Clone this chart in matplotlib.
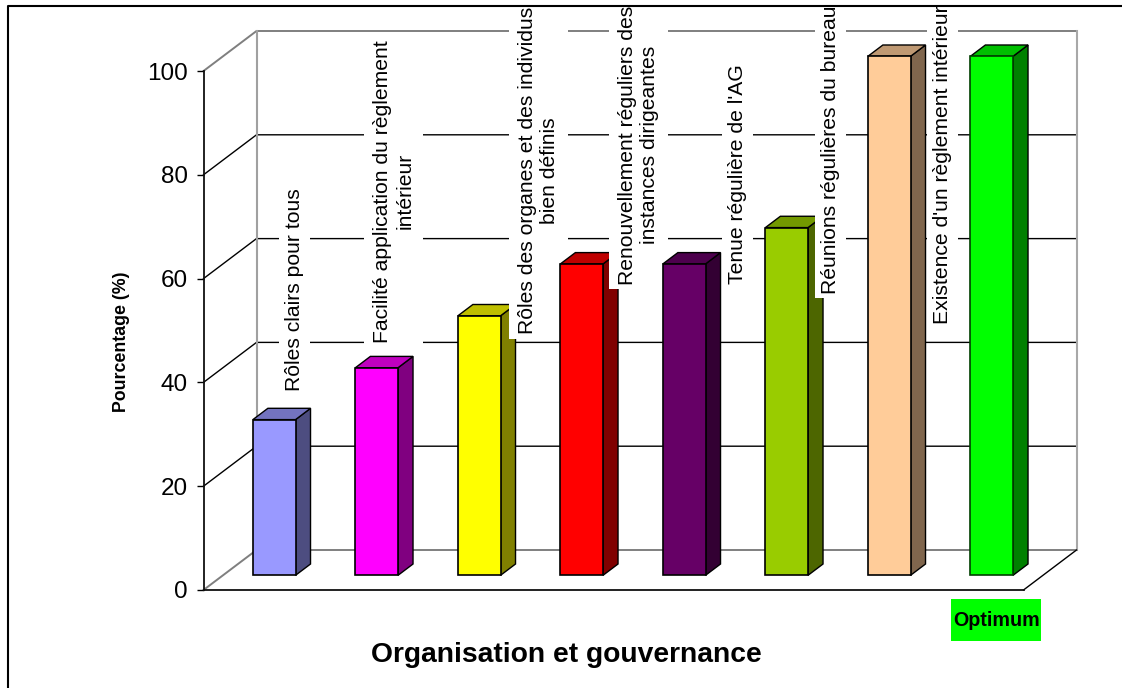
import matplotlib
matplotlib.use("Agg")
import matplotlib.pyplot as plt
from matplotlib.patches import Polygon, Rectangle
from matplotlib.path import Path
from matplotlib.colors import to_rgb

plt.rcParams['font.family'] = ['Liberation Sans', 'DejaVu Sans']

labels = ["Rôles clairs pour tous",
          "Facilité application du règlement\nintérieur",
          "Rôles des organes et des individus\nbien définis",
          "Renouvellement réguliers des\ninstances dirigeantes",
          "Tenue régulière de l'AG",
          "Réunions régulières du bureau",
          "Existence d'un règlement intérieur",
          "Optimum"]
values = [30, 40, 50, 60, 60, 67, 100, 100]
colors = ["#9999FF", "#FF00FF", "#FFFF00", "#FF0000", "#660066", "#99CC00", "#FFCC99", "#00FF00"]
yticks = [0, 20, 40, 60, 80, 100]
label_dx = [20, 17, 59, 56.5, 53, 43.5, 53]
label_dy = [29, 25, -18.5, -21, -20, -66, -268]

W, H = 1122, 688
fig = plt.figure(figsize=(W/100, H/100), dpi=100, facecolor="white")
ax = fig.add_axes([203.5/W, (H-590)/H, 820/W, 519/H])
ax.set_xlim(0, 8)
ax.set_ylim(0, 100)
ax.patch.set_visible(False)

DX = 53/102.5
DY = 40/5.19
d0, d1 = 0.367, 0.65
bw = 0.416


def shade(c, f):
    return tuple(v*f for v in to_rgb(c))


def label_box(x0, y0, width, height, mutation_size):
    # white box: a little room along the text, more across its lines
    pa = 4.5
    pc = 3 + height*0.15
    xa, xb = x0 - pa, x0 + width + pa
    ya, yb = y0 - pc, y0 + height + pc
    return Path([(xa, ya), (xb, ya), (xb, yb), (xa, yb), (xa, ya)], closed=True)


# walls and gridlines
for v in yticks:
    edge = v in (0, 100)
    col = "#7f7f7f" if edge else "black"
    lw = 1.4 if edge else 1.0
    ax.plot([0, DX, 8+DX], [v, v+DY, v+DY], color=col, lw=lw, clip_on=False, zorder=1,
            solid_joinstyle='miter')
ax.plot([DX, DX], [DY, 100+DY], color="#a0a0a0", lw=1.5, clip_on=False, zorder=1)
ax.plot([8+DX, 8+DX], [DY, 100+DY], color="#a8a8a8", lw=1.5, clip_on=False, zorder=1)
ax.plot([8, 8+DX], [0, DY], color="black", lw=1.0, clip_on=False, zorder=1)

# 3D bars
for i, (v, c) in enumerate(zip(values, colors)):
    x0 = i + 0.5 - bw/2 + d0*DX
    x1 = x0 + bw
    y0 = d0*DY
    y1 = y0 + v
    sx = (d1-d0)*DX
    sy = (d1-d0)*DY
    z = 3 + i
    ec = "#004000" if i == 7 else "black"
    ax.bar(x0, v, width=bw, bottom=y0, align='edge', color=c, edgecolor=ec, lw=1.2,
           clip_on=False, zorder=z+0.2)
    ax.add_patch(Polygon([(x1, y0), (x1+sx, y0+sy), (x1+sx, y1+sy), (x1, y1)],
                         fc=shade(c, 0.5), ec="black", lw=1.0, clip_on=False, zorder=z))
    ax.add_patch(Polygon([(x0, y1), (x0+sx, y1+sy), (x1+sx, y1+sy), (x1, y1)],
                         fc=shade(c, 0.75), ec="black", lw=1.0, clip_on=False, zorder=z+0.1))

# data labels: each sits above its own bar but below the next bar
for i, t in enumerate(labels[:-1]):
    bx = i + 0.5 + d0*DX
    ax.annotate(t, xy=(bx, values[i]+d0*DY), xytext=(label_dx[i], label_dy[i]),
                textcoords='offset pixels', rotation=90, ha='center', va='bottom',
                multialignment='center', fontsize=15.2, color='black', zorder=3+i+0.5,
                annotation_clip=False,
                bbox=dict(boxstyle=label_box, fc='white', ec='none'))

# last category label
ax.annotate(labels[-1], xy=(7.5+d0*DX, 0), xytext=(4.5, -30), textcoords='offset pixels',
            ha='center', va='center', fontsize=14.2, fontweight='bold', zorder=20,
            annotation_clip=False)
ax.add_artist(Rectangle((951/W, (H-641)/H), 90/W, 42/H, transform=fig.transFigure,
                        fc="#00FF00", ec='none', clip_on=False, zorder=19))

# axes
ax.spines['top'].set_visible(False)
ax.spines['right'].set_visible(False)
for s in ('left', 'bottom'):
    ax.spines[s].set_linewidth(1.3)
    ax.spines[s].set_color("#101010")
    ax.spines[s].set_zorder(2)
ax.set_xticks([])
ax.set_yticks(yticks)
ax.tick_params(axis='y', length=7.5*0.72, width=1.0, pad=6, labelsize=17.5)
ax.set_ylabel("Pourcentage (%)", fontsize=12.8, fontweight='bold', labelpad=0)
ax.yaxis.set_label_coords((122-203.5)/820, (590-342)/519)
ax.yaxis.label.set_verticalalignment('center')
ax.set_xlabel("Organisation et gouvernance", fontsize=20.3, fontweight='bold')
ax.xaxis.set_label_coords((566-203.5)/820, (590-655)/519)
ax.xaxis.label.set_verticalalignment('center')

# outer frame, drawn over the label boxes
fig.add_artist(plt.Line2D([7.5/W, 7.5/W, 1], [0, 1-5.5/H, 1-5.5/H], color="black", lw=1.5,
                          transform=fig.transFigure, zorder=5))

fig.savefig("out.png", dpi=100)
